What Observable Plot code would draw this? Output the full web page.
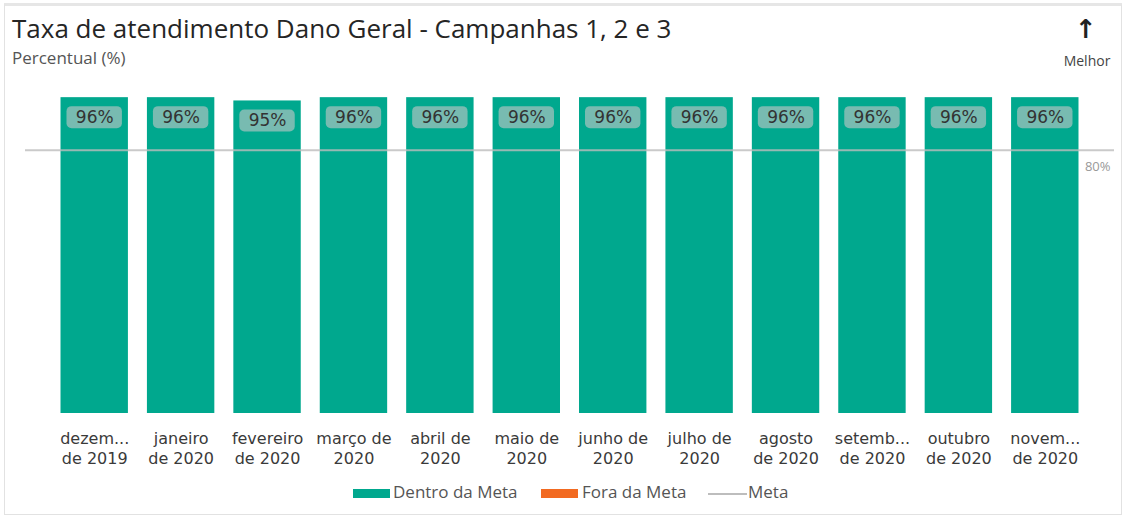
<!DOCTYPE html>
<html><head><meta charset="utf-8">
<script src="https://cdn.jsdelivr.net/npm/d3@7"></script>
<script src="https://cdn.jsdelivr.net/npm/@observablehq/plot@0.6"></script>
<style>
html,body{margin:0;padding:0;background:#fff;}
#page{position:relative;width:1127px;height:519px;overflow:hidden;background:#fff;}
#frame{position:absolute;left:4px;top:3px;width:1118px;height:512px;border:1px solid #e2e2e2;border-top:3px solid #e6e6e6;box-sizing:border-box;pointer-events:none;}
#header{position:relative;height:80px;}
#title{position:absolute;left:12px;top:10px;font-family:"Open Sans",sans-serif;font-size:26px;color:#252525;white-space:nowrap;}
#subtitle{position:absolute;left:12px;top:46px;font-family:"Open Sans",sans-serif;font-size:17px;color:#555;white-space:nowrap;}
#arrow{position:absolute;left:1072px;top:14px;width:28px;text-align:center;font-family:"DejaVu Sans",sans-serif;font-size:26px;font-weight:bold;color:#222;}
#melhor{position:absolute;left:1056px;top:51px;width:62px;text-align:center;font-family:"Open Sans",sans-serif;font-size:14px;color:#444;}
#chart svg{display:block;}
#legend{position:relative;height:39px;font-family:"Open Sans",sans-serif;font-size:17px;color:#555;}
.sw{position:absolute;top:9px;height:9px;}
.lt{position:absolute;top:0px;white-space:nowrap;}
</style></head>
<body>
<div id="page">
  <div id="header">
    <div id="title"></div>
    <div id="subtitle"></div>
    <div id="arrow">↑</div>
    <div id="melhor">Melhor</div>
  </div>
  <div id="chart"></div>
  <div id="legend"></div>
  <div id="frame"></div>
</div>
<script>
const titleText = "Taxa de atendimento Dano Geral - Campanhas 1, 2 e 3";
const subtitleText = "Percentual (%)";
const months = ["dez/2019","jan/2020","fev/2020","mar/2020","abr/2020","mai/2020","jun/2020","jul/2020","ago/2020","set/2020","out/2020","nov/2020"];
const tickLabels = ["dezem...\nde 2019","janeiro\nde 2020","fevereiro\nde 2020","março de\n2020","abril de\n2020","maio de\n2020","junho de\n2020","julho de\n2020","agosto\nde 2020","setemb...\nde 2020","outubro\nde 2020","novem...\nde 2020"];
const values = [96,96,95,96,96,96,96,96,96,96,96,96];
const meta = 80;
const legendNames = ["Dentro da Meta","Fora da Meta","Meta"];
const colors = {dentro:"#00A88E", fora:"#F26A21", meta:"#c6c6c6"};

document.getElementById("title").textContent = titleText;
document.getElementById("subtitle").textContent = subtitleText;

const data = months.map((m,i)=>({month:m, value:values[i], label:tickLabels[i], ok: values[i] >= meta}));

const chart = Plot.plot({
  width: 1127,
  height: 400,
  marginTop: 4,
  marginBottom: 67,
  marginLeft: 25,
  marginRight: 13,
  style: {fontFamily: "DejaVu Sans, sans-serif", fontSize: "16px", color: "#404040", background: "transparent"},
  x: {domain: months, range: [51, 1088], paddingInner: 0.22, paddingOuter: 0.11, round: false, axis: null},
  y: {domain: [0, 100], axis: null},
  marks: [
    Plot.barY(data, {x: "month", y: "value", fill: d => d.ok ? colors.dentro : colors.fora}),
    Plot.barY(data, {x: "month", y1: "value", y2: "value", insetTop: 9, insetBottom: -31, insetLeft: 6, insetRight: 6, rx: 5, fill: "#c8c8c8", fillOpacity: 0.6}),
    Plot.text(data, {x: "month", y: "value", text: d => d.value + "%", dy: 20, fontSize: 17, fill: "#333", lineAnchor: "middle"}),
    Plot.ruleY([meta], {stroke: "#bdbdbd", strokeOpacity: 0.8, strokeWidth: 2}),
    Plot.text([meta], {y: d => d, text: d => d + "%", frameAnchor: "right", textAnchor: "end", dx: -4, dy: 17, fontSize: 13, fill: "#999", fontFamily: "Open Sans, sans-serif"}),
    Plot.axisX({domain: months, tickSize: 0, tickPadding: 16, fontSize: 16, lineHeight: 1.25, tickFormat: d => tickLabels[months.indexOf(d)], fill: "#3a3a3a", label: null})
  ]
});
document.getElementById("chart").appendChild(chart);

const legend = document.getElementById("legend");
const items = [
  {kind:"sw", color:colors.dentro, left:353, width:37, textLeft:393, text:legendNames[0]},
  {kind:"sw", color:colors.fora, left:541, width:37, textLeft:582, text:legendNames[1]},
  {kind:"ln", color:"#bdbdbd", left:708, width:39, textLeft:748, text:legendNames[2]}
];
for (const it of items) {
  const s = document.createElement("div");
  s.className = "sw";
  s.style.left = it.left + "px";
  s.style.width = it.width + "px";
  s.style.background = it.color;
  if (it.kind === "ln") { s.style.height = "2px"; s.style.top = "13px"; }
  legend.appendChild(s);
  const t = document.createElement("div");
  t.className = "lt";
  t.style.left = it.textLeft + "px";
  t.textContent = it.text;
  legend.appendChild(t);
}
</script>
</body></html>
